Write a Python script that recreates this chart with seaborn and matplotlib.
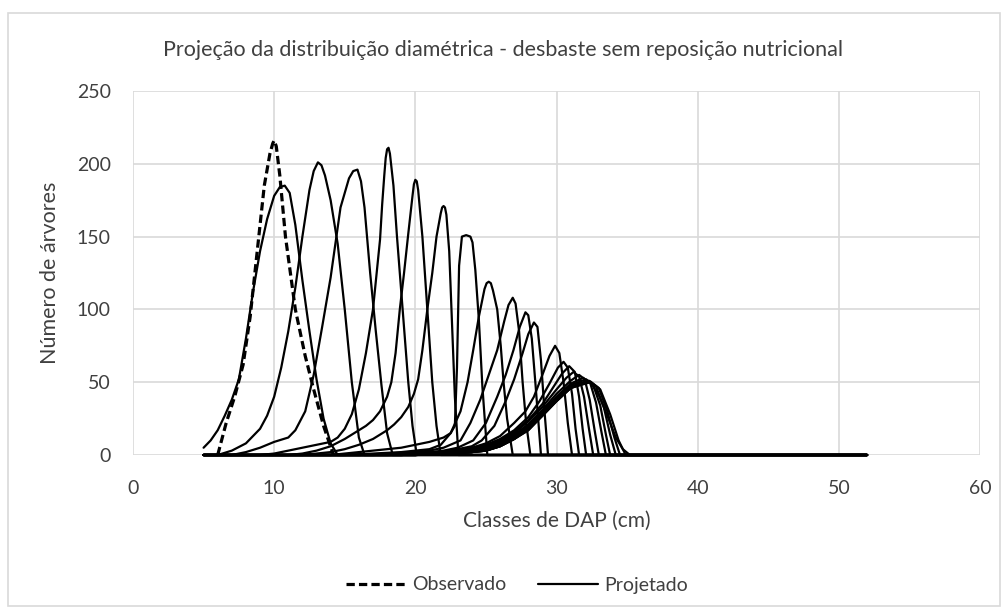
import matplotlib
matplotlib.use("Agg")
import matplotlib.pyplot as plt
from matplotlib.lines import Line2D
from matplotlib.patches import Rectangle
import seaborn as sns
import pandas as pd

# DAP range where the projected curves run along zero
x_inicio = 5
x_fim = 52

# Observed distribution (dashed)
obs_x = [6.0, 6.6, 7.2, 7.8, 8.3, 8.8, 9.3, 9.7, 9.9, 10.0, 10.15, 10.4, 10.8, 11.5, 12.2, 12.8, 13.5, 14.2]
obs_y = [0, 22, 40, 62, 95, 140, 185, 207, 214, 216, 212, 192, 150, 100, 68, 45, 20, 0]

# Projected distributions (solid)
p01_x = [5.0, 5.5, 6.0, 6.5, 7.0, 7.5, 8.0, 8.5, 9.0, 9.5, 10.0, 10.4, 10.75, 11.1, 11.5, 12.0, 12.5, 13.0, 13.5, 14.0, 14.5]
p01_y = [5, 10, 17, 27, 38, 52, 80, 112, 140, 162, 178, 184, 185, 180, 158, 120, 85, 52, 25, 8, 0]
p02_x = [6, 7, 8, 9, 9.5, 10, 10.5, 11, 11.5, 12, 12.5, 12.8, 13.1, 13.35, 13.6, 14.0, 14.5, 15.0, 15.5, 16.0, 16.4]
p02_y = [0, 3, 8, 18, 27, 40, 60, 85, 115, 150, 182, 195, 201, 199, 192, 175, 145, 100, 50, 12, 0]
p03_x = [7, 8, 9, 10, 11, 11.5, 12.2, 12.8, 13.4, 14.0, 14.7, 15.3, 15.6, 15.9, 16.15, 16.4, 16.8, 17.2, 17.6, 18.0, 18.4]
p03_y = [0, 2, 5, 9, 12, 17, 30, 55, 88, 122, 170, 190, 195, 196, 188, 170, 125, 85, 48, 15, 0]
p04_x = [9, 10, 11, 12, 13, 14, 14.5, 15, 15.5, 16.0, 16.5, 17.0, 17.5, 17.65, 17.8, 17.9, 18.0, 18.1, 18.2, 18.45, 18.7, 19.1, 19.5, 19.8, 20.1]
p04_y = [0, 1, 3, 5, 7, 9, 12, 18, 28, 45, 70, 100, 148, 172, 192, 204, 210, 211, 207, 185, 150, 100, 50, 20, 0]
p05_x = [11, 12, 13, 14, 15, 16, 16.5, 17, 17.5, 18.0, 18.3, 18.6, 18.9, 19.2, 19.5, 19.8, 19.9, 20.0, 20.1, 20.2, 20.5, 20.85, 21.2, 21.5, 21.8]
p05_y = [0, 1, 3, 6, 11, 17, 20, 24, 30, 40, 50, 70, 100, 125, 152, 178, 186, 189, 188, 182, 150, 100, 50, 20, 0]
p06_x = [12, 13, 14, 15, 16, 17, 18, 18.5, 19.0, 19.5, 19.9, 20.2, 20.5, 20.85, 21.2, 21.5, 21.8, 21.9, 22.0, 22.1, 22.2, 22.4, 22.6, 22.8, 23.05]
p06_y = [0, 1, 2, 4, 7, 11, 17, 21, 26, 33, 42, 52, 72, 100, 125, 150, 166, 170, 171, 170, 165, 140, 90, 40, 0]
p07_x = [14, 15, 16, 17, 18, 19, 20, 21, 22, 22.5, 22.8, 22.95, 23.1, 23.3, 23.6, 23.9, 24.05, 24.25, 24.5, 24.75, 25.1]
p07_y = [0, 1, 2, 3, 4, 5, 7, 9, 12, 15, 20, 60, 130, 150, 151, 150, 146, 127, 93, 47, 0]
p08_x = [15, 17, 19, 20, 21, 21.8, 22.5, 23.2, 23.7, 24.1, 24.5, 24.9, 25.05, 25.2, 25.35, 25.5, 25.8, 26.05, 26.25, 26.5, 26.9]
p08_y = [0, 1, 2, 3, 4, 7, 15, 30, 50, 72, 95, 114, 118, 119, 118, 113, 100, 75, 50, 25, 0]
p09_x = [16, 18, 20, 21, 22, 23.2, 23.9, 24.6, 25.2, 25.8, 26.3, 26.6, 26.9, 27.1, 27.35, 27.6, 27.85, 28.15]
p09_y = [0, 1, 2, 3, 5, 10, 22, 38, 55, 72, 92, 103, 108, 104, 85, 50, 22, 0]
p10_x = [17, 19, 21, 22, 23, 24.1, 25.0, 25.8, 26.4, 26.95, 27.4, 27.8, 28.0, 28.25, 28.5, 28.7, 28.9]
p10_y = [0, 1, 2, 3, 5, 10, 22, 40, 55, 72, 88, 98, 96, 80, 50, 25, 0]
p11_x = [18, 20, 22, 23, 24, 24.7, 25.6, 26.4, 27.0, 27.6, 28.0, 28.4, 28.65, 28.9, 29.15, 29.4]
p11_y = [0, 1, 2, 4, 6, 10, 20, 37, 52, 70, 83, 91, 88, 65, 30, 0]
p12_x = [19, 21, 23, 24, 25, 26, 27, 27.8, 28.4, 29.0, 29.5, 29.9, 30.2, 30.5, 30.8, 31.1]
p12_y = [0, 1, 3, 5, 8, 13, 22, 30, 40, 55, 68, 75, 70, 50, 22, 0]
p13_x = [19, 21, 23, 24, 25, 26, 27, 28, 28.8, 29.5, 30.1, 30.5, 30.8, 31.1, 31.35, 31.6]
p13_y = [0, 1, 2, 4, 7, 11, 17, 26, 37, 49, 60, 64, 60, 42, 18, 0]
p14_x = [19, 21, 23, 24, 25, 26, 27, 28, 29, 29.8, 30.4, 30.9, 31.3, 31.6, 31.85, 32.1]
p14_y = [0, 1, 2, 3, 6, 10, 16, 24, 35, 47, 56, 61, 57, 40, 18, 0]
p15_x = [20, 22, 24, 25, 26, 27, 28, 29, 30, 30.7, 31.2, 31.6, 31.95, 32.3, 32.6]
p15_y = [0, 1, 3, 5, 9, 15, 23, 33, 45, 53, 57, 54, 40, 18, 0]
p16_x = [20, 22, 24, 25, 26, 27, 28, 29, 30, 31, 31.6, 32.0, 32.35, 32.7, 33.0]
p16_y = [0, 1, 2, 4, 8, 14, 21, 31, 42, 51, 55, 52, 38, 17, 0]
p17_x = [20, 22, 24, 25, 26, 27, 28, 29, 30, 31, 31.9, 32.4, 32.8, 33.2, 33.5]
p17_y = [0, 1, 2, 4, 7, 13, 20, 30, 40, 49, 53, 49, 36, 15, 0]
p18_x = [20, 22, 24, 25, 26, 27, 28, 29, 30, 31, 32.1, 32.6, 33.1, 33.5, 33.8]
p18_y = [0, 1, 2, 4, 7, 12, 19, 29, 39, 48, 52, 48, 34, 14, 0]
p19_x = [20, 22, 24, 25, 26, 27, 28, 29, 30, 31, 32.2, 32.8, 33.35, 33.8, 34.2]
p19_y = [0, 1, 2, 3, 6, 11, 18, 28, 38, 47, 51, 47, 33, 14, 0]
p20_x = [20, 22, 24, 25, 26, 27, 28, 29, 30, 31, 32.3, 33.0, 33.6, 34.1, 34.5]
p20_y = [0, 1, 2, 3, 6, 11, 18, 27, 37, 46, 51, 46, 30, 12, 0]
p21_x = [20, 22, 24, 25, 26, 27, 28, 29, 30, 31, 32.4, 33.1, 33.8, 34.4, 34.9]
p21_y = [0, 1, 2, 3, 6, 11, 17, 27, 37, 46, 50.5, 45, 28, 10, 0]
p22_x = [20, 22, 24, 25, 26, 27, 28, 29, 30, 31, 32.4, 33.0, 33.6, 34.2, 34.7, 35.2]
p22_y = [0, 1, 2, 3, 6, 11, 17, 27, 37, 46, 50, 41, 27, 12, 4, 0]

curvas = [(p01_x, p01_y), (p02_x, p02_y), (p03_x, p03_y), (p04_x, p04_y),
          (p05_x, p05_y), (p06_x, p06_y), (p07_x, p07_y), (p08_x, p08_y),
          (p09_x, p09_y), (p10_x, p10_y), (p11_x, p11_y), (p12_x, p12_y),
          (p13_x, p13_y), (p14_x, p14_y), (p15_x, p15_y), (p16_x, p16_y),
          (p17_x, p17_y), (p18_x, p18_y), (p19_x, p19_y), (p20_x, p20_y),
          (p21_x, p21_y), (p22_x, p22_y)]

# long table for seaborn, every projected curve runs on zero from 5 to 52 cm
linhas = []
for i, (xs, ys) in enumerate(curvas):
    if xs[0] > x_inicio:
        xs = [x_inicio] + xs
        ys = [0] + ys
    xs = xs + [x_fim]
    ys = ys + [0]
    for x, y in zip(xs, ys):
        linhas.append({'curva': i, 'dap': x, 'n': y})
proj = pd.DataFrame(linhas)
obs = pd.DataFrame({'dap': obs_x, 'n': obs_y})

sns.set_style('white')
plt.rcParams['font.family'] = ['Lato', 'DejaVu Sans']
cor_texto = '#404040'

fig = plt.figure(figsize=(10.06, 6.12), dpi=100)
ax = fig.add_axes([133 / 1006, 1 - 455 / 612, (980 - 133) / 1006, (455 - 91) / 612])

sns.lineplot(data=proj, x='dap', y='n', units='curva', estimator=None, sort=False,
             color='black', lw=1.6, clip_on=False, ax=ax)
sns.lineplot(data=obs, x='dap', y='n', estimator=None, sort=False,
             color='black', lw=2.3, linestyle=(0, (2.6, 1.3)), clip_on=False, ax=ax)

ax.set_xlim(0, 60)
ax.set_ylim(0, 250)
ax.set_xticks(range(0, 61, 10))
ax.set_yticks(range(0, 251, 50))
ax.grid(True, color='#d9d9d9', lw=1.2)
ax.set_axisbelow(True)
for s in ax.spines.values():
    s.set_visible(False)
ax.tick_params(length=0, labelsize=14, labelcolor=cor_texto)
ax.tick_params(axis='x', pad=18)
ax.tick_params(axis='y', pad=16)
ax.set_xlabel('Classes de DAP (cm)', fontsize=15, color=cor_texto, labelpad=10)
ax.set_ylabel('Número de árvores', fontsize=15.5, color=cor_texto, labelpad=12)

fig.text(503 / 1006, 1 - 50 / 612, 'Projeção da distribuição diamétrica - desbaste sem reposição nutricional',
         ha='center', va='center', fontsize=15.5, color=cor_texto)

handles = [Line2D([], [], color='black', lw=2.3, linestyle=(0, (2.6, 1.3))),
           Line2D([], [], color='black', lw=1.6)]
fig.legend(handles, ['Observado', 'Projetado'], loc='center', bbox_to_anchor=(517 / 1006, 1 - 585 / 612),
           ncol=2, frameon=False, fontsize=14, handlelength=3.1, columnspacing=1.6,
           handletextpad=0.3, labelcolor=cor_texto)

fig.patches.append(Rectangle((8 / 1006, 6 / 612), 992 / 1006, 593 / 612, transform=fig.transFigure,
                             fill=False, edgecolor='#d9d9d9', lw=1.2))

fig.savefig('out.png', dpi=100)
